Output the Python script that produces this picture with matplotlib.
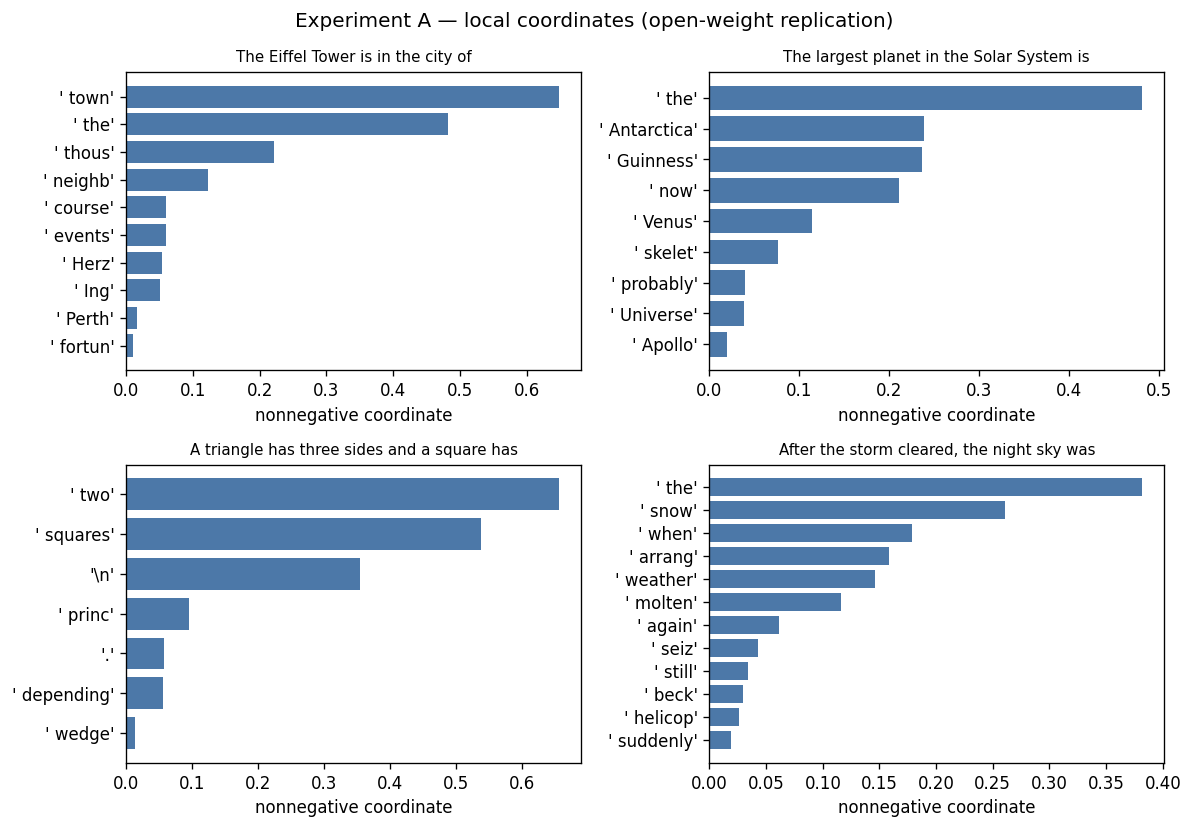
import matplotlib
matplotlib.use("Agg")
from matplotlib import pyplot as plt

BAR_COLOR = "#4c78a8"

prompt_eiffel = "The Eiffel Tower is in the city of"
tokens_eiffel = ["' town'", "' the'", "' thous'", "' neighb'", "' course'",
                 "' events'", "' Herz'", "' Ing'", "' Perth'", "' fortun'"]
coords_eiffel = [0.649, 0.483, 0.222, 0.122, 0.060, 0.060, 0.054, 0.051, 0.016, 0.010]

prompt_planet = "The largest planet in the Solar System is"
tokens_planet = ["' the'", "' Antarctica'", "' Guinness'", "' now'", "' Venus'",
                 "' skelet'", "' probably'", "' Universe'", "' Apollo'"]
coords_planet = [0.481, 0.238, 0.236, 0.211, 0.114, 0.076, 0.039, 0.038, 0.020]

prompt_square = "A triangle has three sides and a square has"
tokens_square = ["' two'", "' squares'", "'\\n'", "' princ'", "'.'",
                 "' depending'", "' wedge'"]
coords_square = [0.657, 0.538, 0.354, 0.095, 0.057, 0.056, 0.013]

prompt_storm = "After the storm cleared, the night sky was"
tokens_storm = ["' the'", "' snow'", "' when'", "' arrang'", "' weather'",
                "' molten'", "' again'", "' seiz'", "' still'", "' beck'",
                "' helicop'", "' suddenly'"]
coords_storm = [0.382, 0.261, 0.179, 0.158, 0.146, 0.116, 0.061, 0.043,
                0.034, 0.030, 0.026, 0.019]


def plot_tokens(ax, prompt, tokens, coords):
    """Horizontal bars, largest on top."""
    ax.barh(tokens[::-1], coords[::-1], color=BAR_COLOR)
    ax.set_title(prompt, fontsize=9)
    ax.set_xlabel("nonnegative coordinate")


fig, axes = plt.subplots(2, 2, figsize=(10, 7), dpi=120)
plot_tokens(axes[0, 0], prompt_eiffel, tokens_eiffel, coords_eiffel)
plot_tokens(axes[0, 1], prompt_planet, tokens_planet, coords_planet)
plot_tokens(axes[1, 0], prompt_square, tokens_square, coords_square)
plot_tokens(axes[1, 1], prompt_storm, tokens_storm, coords_storm)

fig.suptitle("Experiment A \u2014 local coordinates (open-weight replication)", fontsize=12)
fig.tight_layout()
fig.savefig("out.png", dpi=120, bbox_inches="tight")
